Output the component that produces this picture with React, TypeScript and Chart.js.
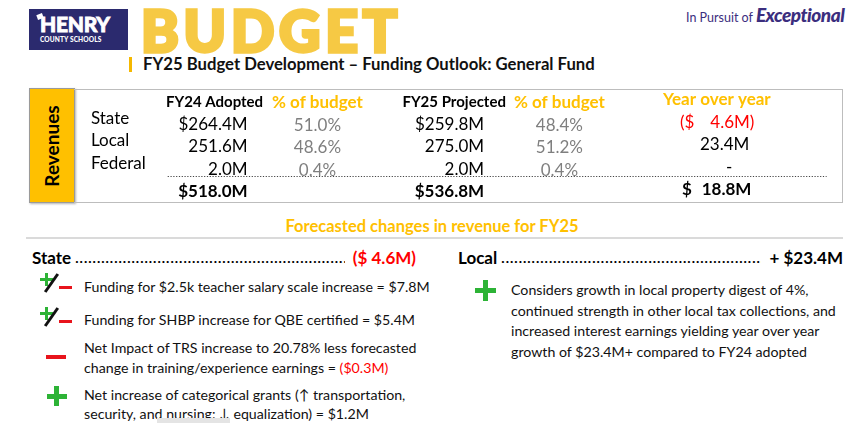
import React, { useEffect, useRef } from 'react';
import { Chart, registerables } from 'chart.js';

Chart.register(...registerables);

// ---------- data ----------
const rowLabels = ['State', 'Local', 'Federal'];
const columnHeaders = ['FY24 Adopted', '% of budget', 'FY25 Projected', '% of budget', 'Year over year'];
const fy24Adopted = [264.4, 251.6, 2.0];
const fy24Share = [51.0, 48.6, 0.4];
const fy25Projected = [259.8, 275.0, 2.0];
const fy25Share = [48.4, 51.2, 0.4];
const yearOverYear = [-4.6, 23.4, 0];
const fy24Total = 518.0;
const fy25Total = 536.8;
const yoyTotal = 18.8;

const stateBullets = [
  ['Funding for $2.5k teacher salary scale increase = $7.8M'],
  ['Funding for SHBP increase for QBE certified = $5.4M'],
  ['Net Impact of TRS increase to 20.78% less forecasted', 'change in training/experience earnings = '],
  ['Net increase of categorical grants (\u2191 transportation,', 'security, and nursing: \u2193 equalization)  = $1.2M'],
];
const localBullet = [
  'Considers growth in local property digest of 4%,',
  'continued strength in other local tax collections, and',
  'increased interest earnings yielding year over year',
  'growth of $23.4M+ compared to FY24 adopted',
];

// ---------- layout / style ----------
const FONT = 'Lato, "Open Sans", sans-serif';
const ORANGE = '#FFC000';
const RED = '#FF0000';
const GREEN = '#2DB336';
const GRAY = '#7F7F7F';
// x anchors in % of the table width
const LABEL_X = 2.2;
const HEADER_X = [18.3, 31.7, 49.5, 63.2, 83.7];
const VALUE_X = [22.6, 31.7, 53.4, 63.2, 88.2];
const YOY_SIGN_X = 78.9;
const YOY_DASH_X = 85.3;

const fmtMoney = (v: number) => v.toFixed(1) + 'M';

const tablePlugin = {
  id: 'revenueTable',
  afterDatasetsDraw(chart: any) {
    const ctx = chart.ctx;
    const xs = chart.scales.x;
    const ys = chart.scales.y;
    ctx.save();
    ctx.textBaseline = 'middle';

    // row labels
    ctx.font = `17px ${FONT}`;
    ctx.fillStyle = '#000';
    ctx.textAlign = 'left';
    rowLabels.forEach((l, i) => ctx.fillText(l, xs.getPixelForValue(LABEL_X), ys.getPixelForValue(i + 1) - 5));

    // headers
    ctx.textAlign = 'center';
    columnHeaders.forEach((h, c) => {
      const black = c === 0 || c === 2;
      ctx.font = black ? `bold 15px ${FONT}` : `bold 17px ${FONT}`;
      ctx.fillStyle = black ? '#000' : ORANGE;
      ctx.fillText(h, xs.getPixelForValue(HEADER_X[c]), ys.getPixelForValue(0) + (c === 4 ? -2 : 1));
    });

    // dotted separator
    ctx.beginPath();
    ctx.setLineDash([1.2, 1.6]);
    ctx.strokeStyle = '#444';
    ctx.lineWidth = 1;
    const ly = Math.round(ys.getPixelForValue(3.33)) + 0.5;
    ctx.moveTo(xs.getPixelForValue(12.2), ly);
    ctx.lineTo(xs.getPixelForValue(98), ly);
    ctx.stroke();
    ctx.setLineDash([]);

    // cells
    chart.data.datasets.forEach((ds: any, d: number) => {
      const meta = chart.getDatasetMeta(d);
      meta.data.forEach((pt: any, i: number) => {
        const cell = ds.data[i];
        const x = pt.x;
        const y = pt.y + 1;
        if (ds.kind === 'money') {
          ctx.textAlign = 'right';
          ctx.fillStyle = '#000';
          ctx.font = cell.total ? `bold 17px ${FONT}` : `17px ${FONT}`;
          const txt = (cell.total || i === 0 ? '$' : '') + fmtMoney(cell.v);
          ctx.fillText(txt, x, y);
        } else if (ds.kind === 'share') {
          ctx.textAlign = 'center';
          ctx.fillStyle = GRAY;
          ctx.font = `17px ${FONT}`;
          ctx.fillText(cell.v.toFixed(1) + '%', x, y + 1);
        } else if (ds.kind === 'yoy') {
          const sx = xs.getPixelForValue(YOY_SIGN_X);
          const yy = y - 2;
          if (cell.total) {
            ctx.font = `bold 17px ${FONT}`;
            ctx.fillStyle = '#000';
            ctx.textAlign = 'left';
            ctx.fillText('$', sx + 2, yy);
            ctx.textAlign = 'right';
            ctx.fillText(fmtMoney(cell.v), x, yy);
          } else if (cell.v < 0) {
            ctx.font = `17px ${FONT}`;
            ctx.fillStyle = RED;
            ctx.textAlign = 'left';
            ctx.fillText('($', sx, yy);
            ctx.textAlign = 'right';
            ctx.fillText(fmtMoney(-cell.v) + ')', x + 3, yy);
          } else if (cell.v === 0) {
            ctx.font = `17px ${FONT}`;
            ctx.fillStyle = '#000';
            ctx.textAlign = 'center';
            ctx.fillText('-', xs.getPixelForValue(YOY_DASH_X), yy);
          } else {
            ctx.font = `17px ${FONT}`;
            ctx.fillStyle = '#000';
            ctx.textAlign = 'right';
            ctx.fillText(fmtMoney(cell.v), x - 2, yy);
          }
        }
      });
    });
    ctx.restore();
  },
};

function RevenueTable() {
  const ref = useRef<HTMLCanvasElement>(null);
  useEffect(() => {
    if (!ref.current) return;
    const col = (c: number, values: number[], total: number | null) => {
      const pts: any[] = values.map((v, i) => ({ x: VALUE_X[c], y: i + 1, v }));
      if (total !== null) pts.push({ x: VALUE_X[c], y: 4, v: total, total: true });
      return pts;
    };
    const chart = new Chart(ref.current, {
      type: 'scatter',
      data: {
        datasets: [
          { label: columnHeaders[0], kind: 'money', data: col(0, fy24Adopted, fy24Total) } as any,
          { label: columnHeaders[1], kind: 'share', data: col(1, fy24Share, null) } as any,
          { label: columnHeaders[2], kind: 'money', data: col(2, fy25Projected, fy25Total) } as any,
          { label: columnHeaders[3], kind: 'share', data: col(3, fy25Share, null) } as any,
          { label: columnHeaders[4], kind: 'yoy', data: col(4, yearOverYear, yoyTotal) } as any,
        ],
      },
      options: {
        animation: false,
        responsive: false,
        maintainAspectRatio: false,
        layout: { padding: 0 },
        elements: { point: { radius: 0, hoverRadius: 0 } },
        events: [],
        scales: {
          x: { type: 'linear', min: 0, max: 100, display: false },
          y: { type: 'linear', min: -0.5, max: 4.5, reverse: true, display: false },
        },
        plugins: { legend: { display: false }, tooltip: { enabled: false } },
      },
      plugins: [tablePlugin],
    });
    return () => chart.destroy();
  }, []);
  return <canvas ref={ref} width={768} height={112} style={{ display: 'block' }} />;
}

const abs = (x: number, y: number, extra: any = {}) => ({ position: 'absolute' as const, left: x, top: y, ...extra });

function PlusMinus({ x, y }: { x: number; y: number }) {
  return (
    <div style={abs(x, y, { width: 34, height: 22 })}>
      <div style={abs(0, 5, { width: 13, height: 3, background: GREEN })} />
      <div style={abs(5, 0, { width: 3, height: 13, background: GREEN })} />
      <div style={abs(10, -1, { width: 3, height: 22, background: '#111', transform: 'rotate(35deg)' })} />
      <div style={abs(19, 13, { width: 13, height: 3, background: '#E8141C' })} />
    </div>
  );
}

function Plus({ cx, cy, size, th }: { cx: number; cy: number; size: number; th: number }) {
  return (
    <>
      <div style={abs(cx - size / 2, cy - th / 2, { width: size, height: th, background: GREEN })} />
      <div style={abs(cx - th / 2, cy - size / 2, { width: th, height: size, background: GREEN })} />
    </>
  );
}

function Line({ x, cy, children, style }: any) {
  return (
    <div style={abs(x, cy - 10, { lineHeight: '20px', whiteSpace: 'nowrap', fontSize: 14.2, color: '#111', ...style })}>
      {children}
    </div>
  );
}

function DotLeader({ x, cy, width, label, value, valueColor }: any) {
  return (
    <div
      style={abs(x, cy - 11, {
        width,
        display: 'flex',
        lineHeight: '22px',
        fontWeight: 700,
        fontSize: 17,
        whiteSpace: 'nowrap',
        color: '#000',
      })}
    >
      <span>{label}&nbsp;</span>
      <span style={{ flex: 1, overflow: 'hidden', fontSize: 14, letterSpacing: 1 }}>{'.'.repeat(120)}</span>
      <span style={{ color: valueColor }}>&nbsp;&nbsp;{value}</span>
    </div>
  );
}

export default function App() {
  useEffect(() => {
    document.body.style.margin = '0';
  }, []);
  return (
    <div
      style={{
        position: 'relative',
        width: 864,
        height: 423,
        overflow: 'hidden',
        background: '#fff',
        fontFamily: FONT,
      }}
    >
      {/* logo */}
      <div style={abs(29, 9, { width: 99, height: 41, background: '#2B2A6E' })}>
        <div style={abs(8, 5, { width: 6, height: 5, background: '#fff', transform: 'rotate(-20deg)' })} />
        <div
          style={abs(11, 3, {
            color: '#fff',
            fontWeight: 900,
            fontSize: 21,
            lineHeight: '24px',
            letterSpacing: -0.3,
            WebkitTextStroke: '0.8px #fff',
          })}
        >
          HENRY
        </div>
        <div style={abs(11, 26, { color: '#fff', fontWeight: 900, fontSize: 6.6, lineHeight: '8px', letterSpacing: 0.1 })}>
          COUNTY SCHOOLS
        </div>
      </div>
      <div
        style={abs(141, -2, {
          color: '#F6C944',
          fontWeight: 900,
          fontSize: 57,
          lineHeight: '64px',
          letterSpacing: 4.8,
          WebkitTextStroke: '3.5px #F6C944',
        })}
      >
        BUDGET
      </div>
      <div style={abs(686, 5, { color: '#3B2E7E', fontSize: 12.5, lineHeight: '20px', whiteSpace: 'nowrap' })}>
        In Pursuit of{' '}
        <span style={{ fontStyle: 'italic', fontWeight: 900, fontSize: 19, letterSpacing: -0.5 }}>Exceptional</span>
      </div>

      <div style={abs(129, 57, { width: 2.5, height: 15, background: '#F5B800' })} />
      <div style={abs(143, 53, { fontWeight: 700, fontSize: 16.7, lineHeight: '22px', color: '#111', whiteSpace: 'nowrap' })}>
        FY25 Budget Development – Funding Outlook: General Fund
      </div>

      {/* revenue table */}
      <div
        style={abs(29, 88, {
          width: 44,
          height: 113,
          background: '#FFC000',
          border: '1px solid #9a9a9a',
          boxShadow: '1px 1px 2px rgba(0,0,0,0.3)',
        })}
      >
        <div
          style={abs(22, 57, {
            transform: 'translate(-50%, -50%) rotate(-90deg)',
            fontWeight: 700,
            fontSize: 19,
            lineHeight: '22px',
            color: '#000',
            whiteSpace: 'nowrap',
          })}
        >
          Revenues
        </div>
      </div>
      <div
        style={abs(74, 89, {
          width: 768,
          height: 112,
          borderTop: '1.5px solid #BDBDBD',
          borderRight: '1.5px solid #BDBDBD',
          borderBottom: '1.5px solid #BDBDBD',
        })}
      >
        <RevenueTable />
      </div>

      {/* forecast section */}
      <div style={abs(0, 215, { width: 864, textAlign: 'center', color: ORANGE, fontWeight: 700, fontSize: 16.5, lineHeight: '22px' })}>
        Forecasted changes in revenue for FY25
      </div>
      <div style={abs(26, 237, { width: 817, height: 2, background: '#DADADA' })} />

      <DotLeader x={32} cy={258} width={384} label="State" value="($ 4.6M)" valueColor={RED} />
      <DotLeader x={458} cy={258} width={385} label="Local" value="+ $23.4M" valueColor="#000" />

      <PlusMinus x={40} y={273} />
      <PlusMinus x={40} y={307} />
      <div style={abs(46, 355, { width: 20, height: 4, background: '#E8141C' })} />
      <Plus cx={56.5} cy={396} size={20} th={5} />
      <Plus cx={485} cy={290} size={21} th={5} />

      <Line x={84} cy={287}>{stateBullets[0][0]}</Line>
      <Line x={84} cy={320}>{stateBullets[1][0]}</Line>
      <Line x={84} cy={348}>{stateBullets[2][0]}</Line>
      <Line x={84} cy={368}>
        {stateBullets[2][1]}
        <span style={{ color: RED }}>($0.3M)</span>
      </Line>
      <Line x={84} cy={395}>{stateBullets[3][0]}</Line>
      <Line x={84} cy={414}>{stateBullets[3][1]}</Line>
      <div style={abs(157, 418, { width: 73, height: 5, background: '#E4E4E4' })} />

      {localBullet.map((l, i) => (
        <Line key={i} x={511} cy={290 + i * 20.5}>
          {l}
        </Line>
      ))}
    </div>
  );
}
